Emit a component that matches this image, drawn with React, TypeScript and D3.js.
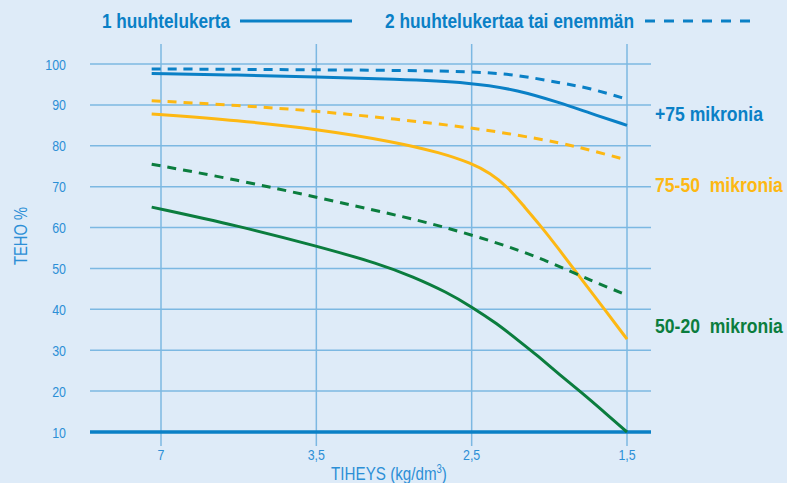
import { useRef, useEffect } from "react"
import * as d3 from "d3"

// x axis: density steps (index 0 = 7 ... 3 = 1,5)
const densityLabels = ["7", "3,5", "2,5", "1,5"]
const yTicks = [10, 20, 30, 40, 50, 60, 70, 80, 90, 100]

// +75 mikronia
const coarseOnceX = [-0.06, 0.5, 1, 1.5, 2, 2.3, 2.57, 2.76, 3]
const coarseOnceY = [97.7, 97.3, 96.8, 96.3, 95.5, 93.6, 90.5, 88, 85]
const coarseMoreX = [-0.06, 1, 2, 2.3, 2.57, 2.76, 3]
const coarseMoreY = [98.8, 98.6, 98.3, 97.3, 95.4, 94.1, 91.4]

// 75-50 mikronia
const mediumOnceX = [-0.06, 0.5, 1, 1.5, 1.8, 2, 2.12, 2.23, 2.33, 2.44, 2.55, 2.71, 2.85, 3]
const mediumOnceY = [87.8, 86.2, 84.1, 81, 78.3, 75.7, 73.3, 70, 65.5, 60.6, 55.3, 47.2, 40.3, 32.7]
const mediumMoreX = [-0.06, 0.5, 1, 1.5, 2, 2.3, 2.57, 2.76, 3]
const mediumMoreY = [91, 89.9, 88.5, 86.6, 84.4, 82.6, 80.7, 79, 76.5]

// 50-20 mikronia
const fineOnceX = [-0.06, 0.5, 1, 1.41, 1.62, 1.84, 2, 2.16, 2.31, 2.42, 2.57, 2.7, 2.85, 3]
const fineOnceY = [65, 60.4, 55.5, 51.1, 48, 44.2, 40.6, 36.6, 32.1, 28.8, 23.9, 19.9, 15, 10]
const fineMoreX = [-0.06, 0.5, 1, 1.5, 1.8, 2.15, 2.47, 2.78, 3]
const fineMoreY = [75.5, 71.6, 67.4, 63.2, 60.4, 56.5, 52.2, 46.8, 43.5]

const BLUE = "#0a80c6"
const ORANGE = "#fdb813"
const GREEN = "#0b7d3e"
const GRID = "#7cb8e2"
const TICK = "#2c8fd6"
const BG = "#deebf8"
const FONT = "'Liberation Sans', Arial, sans-serif"

const series = [
  { xs: coarseOnceX, ys: coarseOnceY, color: BLUE, dashed: false },
  { xs: coarseMoreX, ys: coarseMoreY, color: BLUE, dashed: true },
  { xs: mediumOnceX, ys: mediumOnceY, color: ORANGE, dashed: false },
  { xs: mediumMoreX, ys: mediumMoreY, color: ORANGE, dashed: true },
  { xs: fineOnceX, ys: fineOnceY, color: GREEN, dashed: false },
  { xs: fineMoreX, ys: fineMoreY, color: GREEN, dashed: true },
]

const sizeLabels = [
  { text: "+75 mikronia", value: 87.8, color: BLUE, width: 108 },
  { text: "75-50\u00a0 mikronia", value: 70.3, color: ORANGE, width: 128 },
  { text: "50-20\u00a0 mikronia", value: 36, color: GREEN, width: 128 },
]

// squeeze text horizontally, the original uses a condensed face
const narrow = (sel: any, factor: number) => {
  sel.each(function (this: SVGTextElement) {
    const w = this.getComputedTextLength()
    this.setAttribute("textLength", String(w * factor))
    this.setAttribute("lengthAdjust", "spacingAndGlyphs")
  })
}

const Chart = () => {
  const svgRef = useRef<SVGSVGElement>(null)

  useEffect(() => {
    const W = 787
    const H = 483
    const svg = d3.select(svgRef.current)
    svg.selectAll("*").remove()
    svg.attr("width", W).attr("height", H)

    svg.append("rect").attr("width", W).attr("height", H).attr("fill", BG)

    const x = d3.scaleLinear().domain([0, 3]).range([161, 627])
    const y = d3.scaleLinear().domain([10, 100]).range([432, 64])
    const gridLeft = 90
    const gridRight = 651

    // horizontal grid
    svg
      .append("g")
      .selectAll("line")
      .data(yTicks.filter((d) => d !== 10))
      .enter()
      .append("line")
      .attr("x1", gridLeft)
      .attr("x2", gridRight)
      .attr("y1", (d) => y(d))
      .attr("y2", (d) => y(d))
      .attr("stroke", GRID)
      .attr("stroke-width", 1.5)

    // vertical grid
    svg
      .append("g")
      .selectAll("line")
      .data(densityLabels)
      .enter()
      .append("line")
      .attr("x1", (d, i) => x(i))
      .attr("x2", (d, i) => x(i))
      .attr("y1", 44)
      .attr("y2", 446)
      .attr("stroke", GRID)
      .attr("stroke-width", 1.5)

    // baseline at 10
    svg
      .append("line")
      .attr("x1", gridLeft)
      .attr("x2", gridRight)
      .attr("y1", y(10))
      .attr("y2", y(10))
      .attr("stroke", BLUE)
      .attr("stroke-width", 3.5)

    // y tick labels
    const yLabels = svg
      .append("g")
      .selectAll("text")
      .data(yTicks)
      .enter()
      .append("text")
      .attr("x", 66)
      .attr("y", (d) => y(d) + 5.5)
      .attr("text-anchor", "end")
      .style("font-family", FONT)
      .style("font-size", "15.5px")
      .attr("fill", TICK)
      .text((d) => d)
    narrow(yLabels, 0.8)

    // x tick labels
    const xLabels = svg
      .append("g")
      .selectAll("text")
      .data(densityLabels)
      .enter()
      .append("text")
      .attr("x", (d, i) => x(i))
      .attr("y", 460)
      .attr("text-anchor", "middle")
      .style("font-family", FONT)
      .style("font-size", "15.5px")
      .attr("fill", TICK)
      .text((d) => d)
    narrow(xLabels, 0.8)

    // axis titles
    const xTitle = svg
      .append("g")
      .attr("transform", "translate(389,480) scale(0.8,1)")
      .append("text")
      .attr("text-anchor", "middle")
      .style("font-family", FONT)
      .style("font-size", "19px")
      .attr("fill", TICK)
    xTitle.append("tspan").text("TIHEYS (kg/dm")
    xTitle.append("tspan").attr("dy", -7).style("font-size", "12px").text("3")
    xTitle.append("tspan").attr("dy", 7).text(")")

    svg
      .append("text")
      .attr("transform", "translate(27,236) rotate(-90)")
      .attr("text-anchor", "middle")
      .attr("textLength", 58)
      .attr("lengthAdjust", "spacingAndGlyphs")
      .style("font-family", FONT)
      .style("font-size", "19px")
      .attr("fill", TICK)
      .text("TEHO %")

    // curves
    const line = d3
      .line<[number, number]>()
      .x((d) => x(d[0]))
      .y((d) => y(d[1]))
      .curve(d3.curveBasis)

    series.forEach((s) => {
      const pts = s.xs.map((v, i) => [v, s.ys[i]] as [number, number])
      svg
        .append("path")
        .attr("d", line(pts))
        .attr("fill", "none")
        .attr("stroke", s.color)
        .attr("stroke-width", 3)
        .attr("stroke-dasharray", s.dashed ? "9,7" : null)
    })

    // size labels on the right, squeezed with a transform to the widths in the original
    svg
      .append("g")
      .selectAll("g")
      .data(sizeLabels)
      .enter()
      .append("g")
      .attr("transform", (d) => `translate(655,${y(d.value)})`)
      .append("text")
      .attr("dy", "0.35em")
      .style("font-family", FONT)
      .style("font-size", "20px")
      .style("font-weight", "bold")
      .attr("fill", (d) => d.color)
      .text((d) => d.text)
      .each(function (this: SVGTextElement, d) {
        const w = this.getComputedTextLength()
        this.setAttribute("transform", `scale(${d.width / w},1)`)
      })

    // legend
    const legend = svg.append("g")
    legend
      .append("text")
      .attr("x", 102)
      .attr("y", 28)
      .attr("textLength", 128)
      .attr("lengthAdjust", "spacingAndGlyphs")
      .style("font-family", FONT)
      .style("font-size", "20px")
      .style("font-weight", "bold")
      .attr("fill", BLUE)
      .text("1 huuhtelukerta")
    legend
      .append("line")
      .attr("x1", 240)
      .attr("x2", 352)
      .attr("y1", 21)
      .attr("y2", 21)
      .attr("stroke", BLUE)
      .attr("stroke-width", 3)
    legend
      .append("text")
      .attr("x", 385)
      .attr("y", 28)
      .attr("textLength", 249)
      .attr("lengthAdjust", "spacingAndGlyphs")
      .style("font-family", FONT)
      .style("font-size", "20px")
      .style("font-weight", "bold")
      .attr("fill", BLUE)
      .text("2 huuhtelukertaa tai enemmän")
    legend
      .append("line")
      .attr("x1", 645)
      .attr("x2", 757)
      .attr("y1", 21)
      .attr("y2", 21)
      .attr("stroke", BLUE)
      .attr("stroke-width", 3)
      .attr("stroke-dasharray", "10,9")
  }, [])

  return <svg ref={svgRef} style={{ position: "absolute", left: 0, top: 0, display: "block" }}></svg>
}

export default function App() {
  return <Chart />
}
